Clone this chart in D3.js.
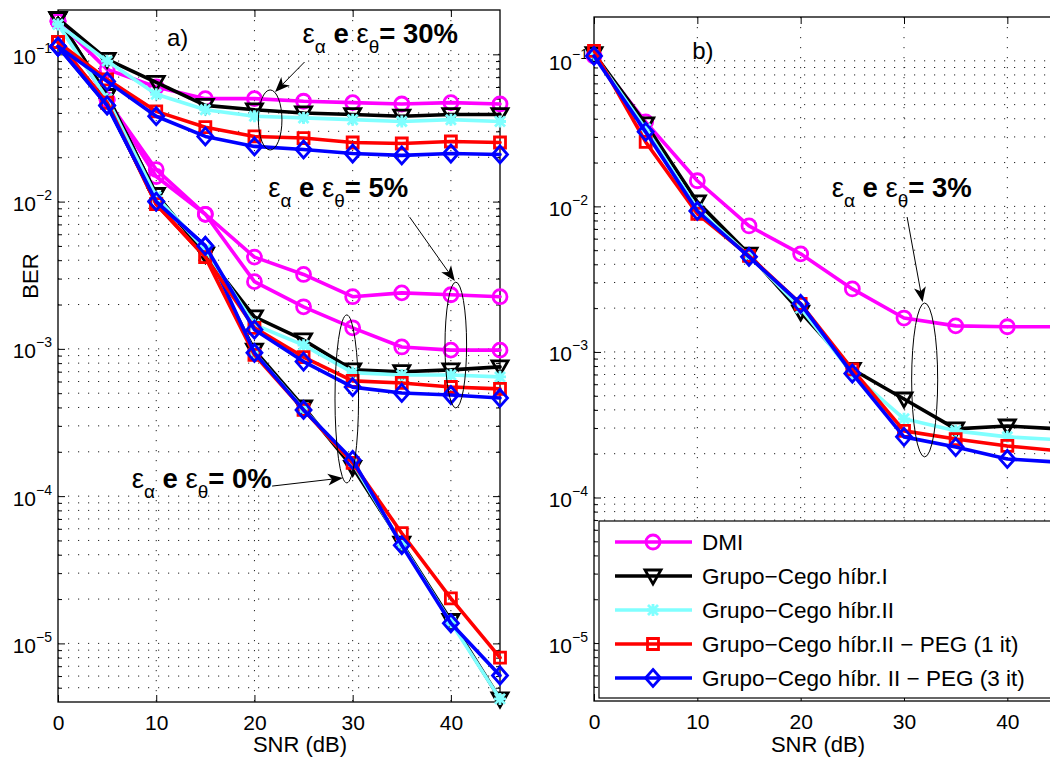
<!DOCTYPE html>
<html>
<head>
<meta charset="utf-8">
<script src="https://cdn.jsdelivr.net/npm/d3@7"></script>
<style>
  html, body { margin: 0; padding: 0; background: #fff; }
  svg { display: block; }
</style>
</head>
<body>
<svg id="fig" width="1050" height="758"></svg>
<script>
// ---------------- data ----------------
const snr = [0, 5, 10, 15, 20, 25, 30, 35, 40, 45];

const seriesNames = [
  "DMI",
  "Grupo\u2212Cego híbr.I",
  "Grupo\u2212Cego híbr.II",
  "Grupo\u2212Cego híbr.II \u2212 PEG (1 it)",
  "Grupo\u2212Cego híbr. II \u2212 PEG (3 it)"
];
const seriesColors = ["#ff00ff", "#000000", "#80ffff", "#ff0000", "#0000ff"];
const seriesMarkers = ["circle", "triangleDown", "asterisk", "square", "diamond"];

// panel a) — errors of 30 %
const dmiA30  = [0.168, 0.079, 0.060, 0.050, 0.050, 0.048, 0.047, 0.046, 0.047, 0.046];
const hib1A30 = [0.175, 0.0925, 0.0645, 0.045, 0.042, 0.040, 0.039, 0.038, 0.039, 0.039];
const hib2A30 = [0.160, 0.090, 0.0535, 0.042, 0.038, 0.037, 0.036, 0.035, 0.036, 0.035];
const peg1A30 = [0.121, 0.0676, 0.041, 0.032, 0.0277, 0.027, 0.0252, 0.0248, 0.0256, 0.0252];
const peg3A30 = [0.113, 0.0655, 0.038, 0.0277, 0.0237, 0.0226, 0.0212, 0.0206, 0.0212, 0.0209];

// panel a) — errors of 5 %
const dmiA5  = [0.168, 0.049, 0.0165, 0.0082, 0.0042, 0.0032, 0.00226, 0.0024, 0.00233, 0.00226];
const hib1A5 = [0.175, 0.0526, 0.0112, 0.0044, 0.00165, 0.00115, 0.00072, 0.00070, 0.00072, 0.000755];
const hib2A5 = [0.160, 0.050, 0.0108, 0.0047, 0.00146, 0.00106, 0.00069, 0.000665, 0.000665, 0.000645];
const peg1A5 = [0.121, 0.047, 0.0096, 0.0042, 0.00139, 0.00088, 0.000606, 0.000587, 0.000551, 0.000535];
const peg3A5 = [0.113, 0.045, 0.0100, 0.0050, 0.00135, 0.00082, 0.00055, 0.000502, 0.000486, 0.000464];

// panel a) — no errors (0 %)
const dmiA0  = [0.168, 0.049, 0.0148, 0.0082, 0.00286, 0.00193, 0.00139, 0.00103, 0.00098, 0.00098];
const hib1A0 = [0.175, 0.0526, 0.0112, 0.0044, 0.00098, 0.000403, 0.000157, 0.0000479, 0.0000143, 0.0000042];
const hib2A0 = [0.160, 0.050, 0.0108, 0.0047, 0.00094, 0.00039, 0.000168, 0.000047, 0.0000139, 0.0000042];
const peg1A0 = [0.121, 0.047, 0.0096, 0.0042, 0.00091, 0.000385, 0.000168, 0.000056, 0.0000202, 0.0000080];
const peg3A0 = [0.113, 0.045, 0.0100, 0.0050, 0.00094, 0.000385, 0.000176, 0.0000464, 0.0000137, 0.00000605];

// panel b) — errors of 3 %
const dmiB  = [0.108, 0.0381, 0.0150, 0.00734, 0.00472, 0.00271, 0.00171, 0.00151, 0.00149, 0.00149];
const hib1B = [0.112, 0.0369, 0.01074, 0.0047, 0.00188, 0.00076, 0.000475, 0.000296, 0.00031, 0.000296];
const hib2B = [0.110, 0.0341, 0.0096, 0.0046, 0.0020, 0.00071, 0.000347, 0.000287, 0.000261, 0.000249];
const peg1B = [0.117, 0.0277, 0.0089, 0.00457, 0.00214, 0.00076, 0.000287, 0.000252, 0.000226, 0.000209];
const peg3B = [0.108, 0.0325, 0.0093, 0.0045, 0.00214, 0.00071, 0.000261, 0.000222, 0.000184, 0.000175];

const xTicks = [0, 10, 20, 30, 40];
const yMajorTicks = [1e-5, 1e-4, 1e-3, 1e-2, 1e-1];

// ---------------- drawing ----------------
const FONT = '"Liberation Sans", Arial, Helvetica, sans-serif';
const svg = d3.select("#fig");

const xA = d3.scaleLinear().domain([0, 45]).range([58, 500]);
const yA = d3.scaleLog().domain([4e-6, 0.2]).range([702, 10]);
const xB = d3.scaleLinear().domain([0, 45]).range([594, 1059]);
const yB = d3.scaleLog().domain([4e-6, 0.2]).range([701, 17]);

const markerPath = {
  circle: "M-7,0A7,7 0 1,0 7,0A7,7 0 1,0 -7,0Z",
  triangleDown: "M-8,-6L8,-6L0,8Z",
  asterisk: "M-5,-5L5,5M-5,5L5,-5M0,-6L0,6M-6,0L6,0",
  square: "M-5.5,-5.5H5.5V5.5H-5.5Z",
  diamond: "M0,-8.5L7.5,0L0,8.5L-7.5,0Z"
};

function minorTicks(y) {
  const [lo, hi] = y.domain();
  const out = [];
  for (let e = -6; e <= -1; e++) {
    for (let m = 2; m <= 9; m++) {
      const v = m * Math.pow(10, e);
      if (v > lo * 1.001 && v < hi * 0.999) out.push(v);
    }
  }
  return out;
}

function styleTicks(sel) {
  sel.select(".domain").remove();
  sel.selectAll(".tick line").attr("stroke", "#000").attr("stroke-width", 1);
}

function drawAxes(g, x, y) {
  const [x0, x1] = x.range();
  const [y1, y0] = y.range();
  const minors = minorTicks(y);

  // dotted grid
  const grid = g.append("g").attr("stroke", "#222").attr("stroke-width", 1)
    .attr("stroke-dasharray", "1.2,8.8");
  grid.selectAll("line.h").data(yMajorTicks.concat(minors)).join("line").attr("class", "h")
    .attr("x1", x0).attr("x2", x1).attr("y1", d => y(d)).attr("y2", d => y(d));
  grid.selectAll("line.v").data(xTicks.filter(d => d > 0)).join("line").attr("class", "v")
    .attr("x1", d => x(d)).attr("x2", d => x(d)).attr("y1", y0).attr("y2", y1);

  // frame
  g.append("rect").attr("x", x0).attr("y", y0).attr("width", x1 - x0).attr("height", y1 - y0)
    .attr("fill", "none").attr("stroke", "#000").attr("stroke-width", 1.3);

  // y ticks: left (labelled) and right, major and minor, all pointing inwards
  const left = g.append("g").attr("transform", `translate(${x0},0)`)
    .call(d3.axisLeft(y).tickValues(yMajorTicks).tickSizeInner(-7).tickSizeOuter(0).tickPadding(6));
  styleTicks(left);
  left.selectAll(".tick text").each(function (d) {
    const t = d3.select(this);
    t.text(null).attr("dy", null).attr("y", 9).attr("fill", "#000")
      .attr("font-family", FONT).attr("font-size", 21);
    t.append("tspan").text("10");
    t.append("tspan").attr("dy", -11).attr("font-size", 14)
      .text("\u2212" + Math.round(-Math.log10(d)));
  });
  styleTicks(g.append("g").attr("transform", `translate(${x0},0)`)
    .call(d3.axisLeft(y).tickValues(minors).tickSizeInner(-4).tickSizeOuter(0).tickFormat("")));
  styleTicks(g.append("g").attr("transform", `translate(${x1},0)`)
    .call(d3.axisRight(y).tickValues(yMajorTicks).tickSizeInner(-7).tickSizeOuter(0).tickFormat("")));
  styleTicks(g.append("g").attr("transform", `translate(${x1},0)`)
    .call(d3.axisRight(y).tickValues(minors).tickSizeInner(-4).tickSizeOuter(0).tickFormat("")));

  // x ticks: bottom (labelled) and top
  const bottom = g.append("g").attr("transform", `translate(0,${y1})`)
    .call(d3.axisBottom(x).tickValues(xTicks).tickSizeInner(-7).tickSizeOuter(0)
      .tickPadding(13).tickFormat(d3.format("d")));
  styleTicks(bottom);
  bottom.selectAll(".tick text").attr("fill", "#000").attr("font-family", FONT).attr("font-size", 21);
  styleTicks(g.append("g").attr("transform", `translate(0,${y0})`)
    .call(d3.axisTop(x).tickValues(xTicks).tickSizeInner(-7).tickSizeOuter(0).tickFormat("")));
}

function drawGroup(g, x, y, group) {
  const line = d3.line().x(d => x(d[0])).y(d => y(d[1]));
  group.forEach((vals, i) => {
    const pts = snr.map((s, k) => [s, vals[k]]);
    const sg = g.append("g");
    sg.append("path").attr("d", line(pts)).attr("fill", "none")
      .attr("stroke", seriesColors[i]).attr("stroke-width", 3.6)
      .attr("stroke-linejoin", "round").attr("stroke-linecap", "round");
    sg.selectAll("path.m").data(pts).join("path").attr("class", "m")
      .attr("d", markerPath[seriesMarkers[i]])
      .attr("transform", d => `translate(${x(d[0])},${y(d[1])})`)
      .attr("fill", "none").attr("stroke", seriesColors[i]).attr("stroke-width", 2.8);
  });
}

function epsLabel(g, px, py, pct) {
  const t = g.append("text").attr("x", px).attr("y", py)
    .attr("font-family", FONT).attr("font-size", 27.5).attr("fill", "#000");
  t.append("tspan").text("\u03b5");
  t.append("tspan").attr("dy", 10).attr("font-size", 19).text("\u03b1");
  t.append("tspan").attr("dy", -10).attr("font-weight", "bold").text(" e ");
  t.append("tspan").text("\u03b5");
  t.append("tspan").attr("dy", 10).attr("font-size", 19).text("\u03b8");
  t.append("tspan").attr("dy", -10).attr("font-weight", "bold").text("= " + pct + "%");
}

function arrow(g, p0, p1) {
  const dx = p1[0] - p0[0], dy = p1[1] - p0[1];
  const len = Math.hypot(dx, dy);
  const ux = dx / len, uy = dy / len, nx = -uy, ny = ux;
  const L = 15, W = 6, notch = 4;
  const bx = p1[0] - ux * L, by = p1[1] - uy * L;
  const mx = p1[0] - ux * (L - notch), my = p1[1] - uy * (L - notch);
  g.append("line").attr("x1", p0[0]).attr("y1", p0[1]).attr("x2", mx).attr("y2", my)
    .attr("stroke", "#000").attr("stroke-width", 1);
  g.append("path")
    .attr("d", `M${p1[0]},${p1[1]}L${bx + nx * W},${by + ny * W}L${mx},${my}L${bx - nx * W},${by - ny * W}Z`)
    .attr("fill", "#000");
}

function annotate(g, x, y, a) {
  g.append("ellipse")
    .attr("cx", x(a.snr)).attr("cy", (y(a.berTop) + y(a.berBottom)) / 2)
    .attr("rx", x(a.snr + a.halfWidth) - x(a.snr))
    .attr("ry", (y(a.berBottom) - y(a.berTop)) / 2)
    .attr("fill", "none").attr("stroke", "#000").attr("stroke-width", 1);
  arrow(g, [x(a.from[0]), y(a.from[1])], [x(a.to[0]), y(a.to[1])]);
  epsLabel(g, x(a.text[0]), y(a.text[1]), a.pct);
}

// ----- panel a -----
const gA = svg.append("g");
drawAxes(gA, xA, yA);
drawGroup(gA, xA, yA, [dmiA0, hib1A0, hib2A0, peg1A0, peg3A0]);
drawGroup(gA, xA, yA, [dmiA5, hib1A5, hib2A5, peg1A5, peg3A5]);
drawGroup(gA, xA, yA, [dmiA30, hib1A30, hib2A30, peg1A30, peg3A30]);

annotate(gA, xA, yA, { snr: 21.6, berTop: 0.0573, berBottom: 0.0224, halfWidth: 1.2,
  from: [25.1, 0.0887], to: [22.1, 0.0555], text: [24.9, 0.119], pct: 30 });
annotate(gA, xA, yA, { snr: 40.5, berTop: 0.00284, berBottom: 0.000397, halfWidth: 1.1,
  from: [35.8, 0.00785], to: [40.4, 0.00289], text: [21.4, 0.01074], pct: 5 });
annotate(gA, xA, yA, { snr: 29.4, berTop: 0.0017, berBottom: 0.000123, halfWidth: 1.2,
  from: [21.8, 0.000117], to: [29.0, 0.000133], text: [7.5, 0.000114], pct: 0 });

gA.append("text").attr("x", xA(11.1)).attr("y", yA(0.114))
  .attr("font-family", FONT).attr("font-size", 24).text("a)");
gA.append("text").attr("transform", "translate(38,276) rotate(-90)").attr("text-anchor", "middle")
  .attr("font-family", FONT).attr("font-size", 22).text("BER");
gA.append("text").attr("x", 300).attr("y", 752).attr("text-anchor", "middle")
  .attr("font-family", FONT).attr("font-size", 22).text("SNR (dB)");

// ----- panel b -----
const gB = svg.append("g");
drawAxes(gB, xB, yB);
drawGroup(gB, xB, yB, [dmiB, hib1B, hib2B, peg1B, peg3B]);
annotate(gB, xB, yB, { snr: 32.0, berTop: 0.00217, berBottom: 0.00019, halfWidth: 1.26,
  from: [30.3, 0.00845], to: [31.8, 0.0022], text: [23.0, 0.0116], pct: 3 });

gB.append("text").attr("x", xB(9.5)).attr("y", yB(0.1028))
  .attr("font-family", FONT).attr("font-size", 24).text("b)");
gB.append("text").attr("x", 818).attr("y", 752).attr("text-anchor", "middle")
  .attr("font-family", FONT).attr("font-size", 22).text("SNR (dB)");

// legend
const leg = gB.append("g");
leg.append("rect").attr("x", 599).attr("y", 521).attr("width", 520).attr("height", 177)
  .attr("fill", "#fff").attr("stroke", "#000").attr("stroke-width", 1.2);
seriesNames.forEach((name, i) => {
  const cy = 542 + i * 34;
  const row = leg.append("g");
  row.append("line").attr("x1", 615).attr("x2", 692).attr("y1", cy).attr("y2", cy)
    .attr("stroke", seriesColors[i]).attr("stroke-width", 3.6);
  row.append("path").attr("d", markerPath[seriesMarkers[i]])
    .attr("transform", `translate(653,${cy})`)
    .attr("fill", "none").attr("stroke", seriesColors[i]).attr("stroke-width", 2.8);
  row.append("text").attr("x", 702).attr("y", cy + 8)
    .attr("font-family", FONT).attr("font-size", 22.5).text(name);
});
</script>
</body>
</html>
